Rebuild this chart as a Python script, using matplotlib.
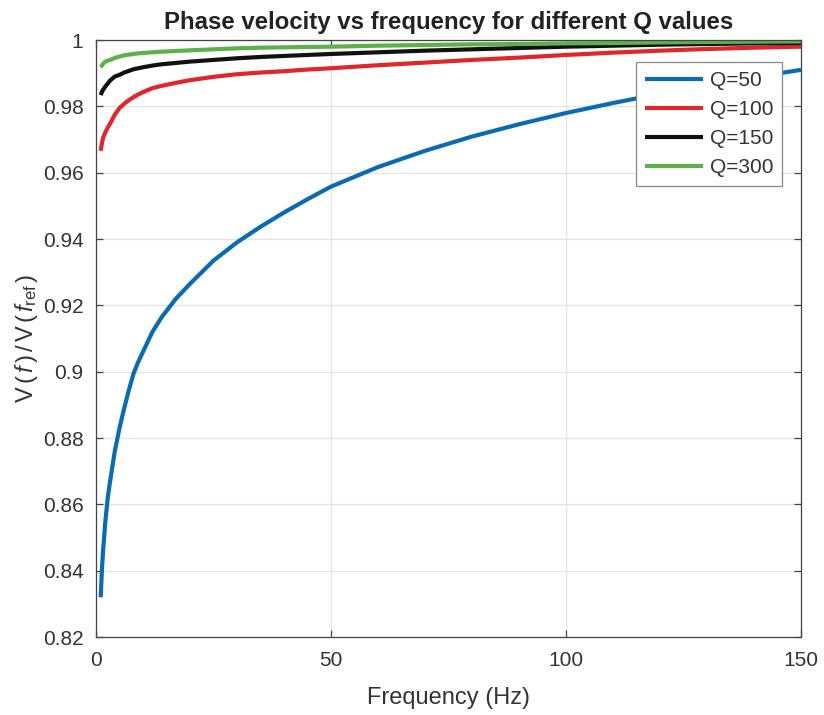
import matplotlib
matplotlib.use("Agg")
import matplotlib.pyplot as plt

plt.rcParams['font.family'] = ['Liberation Sans', 'DejaVu Sans']
plt.rcParams['mathtext.fontset'] = 'custom'
plt.rcParams['mathtext.rm'] = 'Liberation Sans'
plt.rcParams['mathtext.it'] = 'Liberation Sans:italic'

# Frequency samples (Hz)
freq = [1, 1.25, 1.5, 2, 2.5, 3, 4, 5, 6, 7, 8, 9, 10, 12, 14, 17, 20, 25, 30, 35,
        40, 45, 50, 60, 70, 80, 90, 100, 110, 120, 130, 140, 150]

# Normalised phase velocity V(f)/V(f_ref) for each quality factor
v_q50 = [0.832, 0.840, 0.846, 0.855, 0.862, 0.867, 0.876, 0.883, 0.889, 0.8945,
         0.8995, 0.903, 0.906, 0.912, 0.9165, 0.922, 0.9265, 0.9335, 0.939, 0.9437,
         0.948, 0.952, 0.9558, 0.9617, 0.9666, 0.9709, 0.9746, 0.978, 0.981, 0.9838,
         0.9864, 0.9888, 0.991]
v_q100 = [0.9666, 0.9688, 0.9705, 0.9722, 0.9736, 0.9748, 0.9775, 0.9795, 0.9808, 0.9819,
          0.9828, 0.9836, 0.9843, 0.9855, 0.9862, 0.9871, 0.9879, 0.9889, 0.9897, 0.9902,
          0.9906, 0.9911, 0.9915, 0.9924, 0.9932, 0.9940, 0.9947, 0.9955, 0.9962, 0.9968,
          0.9973, 0.9977, 0.998]
v_q150 = [0.9834, 0.9843, 0.985, 0.986, 0.9869, 0.9878, 0.989, 0.9895, 0.9902, 0.9907,
          0.9912, 0.9915, 0.9918, 0.9923, 0.9927, 0.9931, 0.9935, 0.994, 0.9945, 0.9949,
          0.9952, 0.9955, 0.9958, 0.9963, 0.9968, 0.9972, 0.9976, 0.998, 0.9983, 0.9986,
          0.9988, 0.999, 0.9991]
v_q300 = [0.9918, 0.9923, 0.9928, 0.9935, 0.9938, 0.994, 0.9946, 0.995, 0.9954, 0.9956,
          0.9958, 0.996, 0.9961, 0.9963, 0.9965, 0.9967, 0.9969, 0.9972, 0.9975, 0.9977,
          0.9978, 0.9979, 0.998, 0.9983, 0.9985, 0.9987, 0.9988, 0.999, 0.9991, 0.9993,
          0.9994, 0.9995, 0.9996]

labels = ['Q=50', 'Q=100', 'Q=150', 'Q=300']
colors = ['#0A6BB0', '#E0262A', '#111111', '#5BB14A']

x_ticks = [0, 50, 100, 150]
y_ticks = [0.82, 0.84, 0.86, 0.88, 0.9, 0.92, 0.94, 0.96, 0.98, 1]
y_ticklabels = ['0.82', '0.84', '0.86', '0.88', '0.9', '0.92', '0.94', '0.96', '0.98', '1']

fig = plt.figure(figsize=(8.24, 7.15), dpi=100)
ax = fig.add_axes([0.1165, 0.109, 0.8555, 0.835])

for vals, lab, col in zip([v_q50, v_q100, v_q150, v_q300], labels, colors):
    ax.plot(freq, vals, color=col, lw=3.0, label=lab, solid_capstyle='butt',
            solid_joinstyle='round')

ax.set_xlim(0, 150)
ax.set_ylim(0.82, 1.0)
ax.set_xticks(x_ticks)
ax.set_xticklabels([str(t) for t in x_ticks])
ax.set_yticks(y_ticks)
ax.set_yticklabels(y_ticklabels)

ax.grid(True, color='#e3e3e3', lw=0.9)
ax.set_axisbelow(True)
for sp in ax.spines.values():
    sp.set_color('#444444')
    sp.set_linewidth(0.9)
ax.tick_params(direction='in', length=5, width=0.9, color='#444444',
               labelsize=15, labelcolor='#333333', top=True, right=True)
ax.tick_params(axis='x', pad=10)
ax.tick_params(axis='y', pad=9)

ax.set_xlabel('Frequency (Hz)', fontsize=17, color='#333333', labelpad=12)
ax.set_ylabel(r'$\mathrm{V}\,\mathrm{(}\,f\,\mathrm{)}\,\mathrm{/}\,\mathrm{V}\,\mathrm{(}\,f_{\mathrm{ref}}\,\mathrm{)}$',
              fontsize=17, color='#333333', labelpad=2)
ax.set_title('Phase velocity vs frequency for different Q values', fontsize=17.3,
             fontweight='bold', color='#222222', pad=8)

leg = ax.legend(loc='upper right', bbox_to_anchor=(0.973, 0.963), borderaxespad=0,
                fontsize=15, frameon=True, fancybox=False, framealpha=1,
                edgecolor='#888888', handlelength=2.8, handletextpad=0.3,
                labelspacing=0.48, borderpad=0.42)
leg.get_frame().set_linewidth(0.9)
for t in leg.get_texts():
    t.set_color('#333333')

fig.savefig('out.png', dpi=100)
